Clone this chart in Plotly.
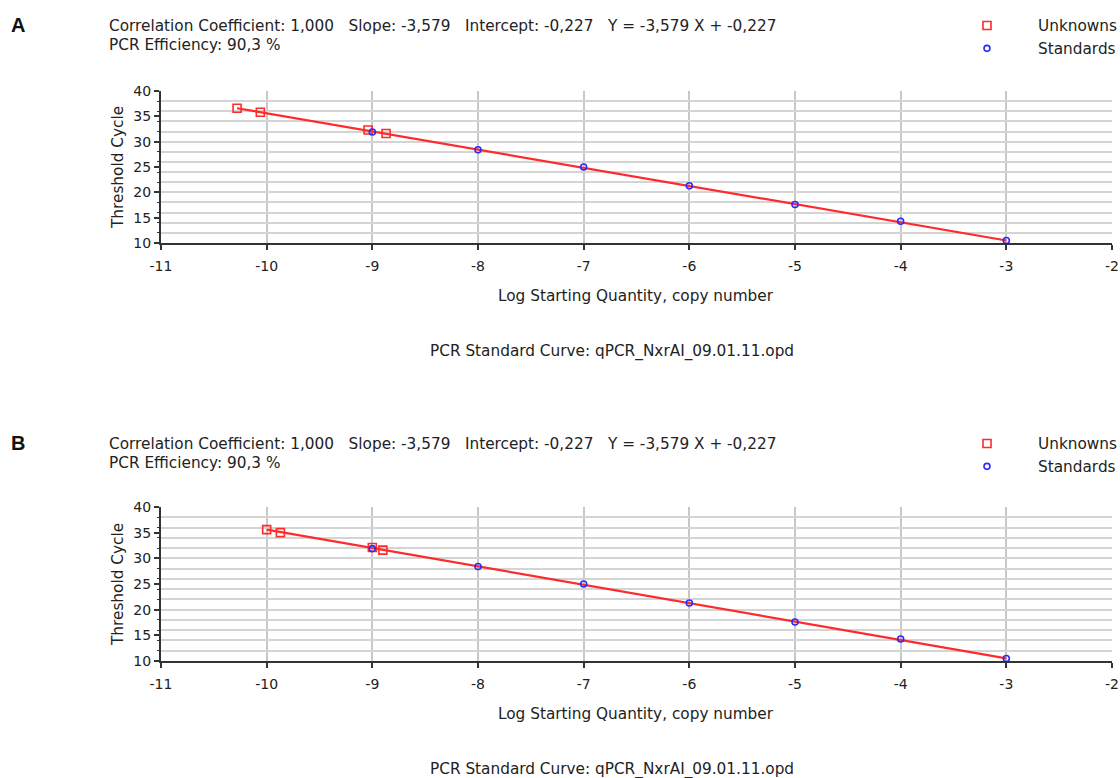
import plotly.graph_objects as go

W, H = 1120, 778

# ---------------- data ----------------
std_x = [-9, -8, -7, -6, -5, -4, -3]
std_y_A = [31.9, 28.4, 25.0, 21.3, 17.6, 14.3, 10.5]
std_y_B = [31.9, 28.4, 25.0, 21.3, 17.6, 14.3, 10.5]

unk_x_A = [-10.28, -10.06, -9.04, -8.87]
unk_y_A = [36.6, 35.8, 32.3, 31.6]
unk_x_B = [-10.0, -9.87, -9.0, -8.90]
unk_y_B = [35.6, 35.0, 32.1, 31.6]

fit_x_A = [-10.28, -3.0]
fit_y_A = [36.6, 10.5]
fit_x_B = [-10.0, -3.0]
fit_y_B = [35.6, 10.5]

header1 = "Correlation Coefficient: 1,000   Slope: -3,579   Intercept: -0,227   Y = -3,579 X + -0,227"
header2 = "PCR Efficiency: 90,3 %"
caption = "PCR Standard Curve: qPCR_NxrAI_09.01.11.opd"
x_title = "Log Starting Quantity, copy number"
y_title = "Threshold Cycle"

x_ticks = [-11, -10, -9, -8, -7, -6, -5, -4, -3, -2]
y_ticks = [10, 15, 20, 25, 30, 35, 40]

FONT = "DejaVu Sans"
TXT = "#222222"
RED = "#ff2a2a"
BLUE = "#2a2aff"
TS = 15.3   # text size
KS = 14     # tick label size

def px(x):
    return x / W

def py(y):
    return 1 - y / H

fig = go.Figure()

panels = [
    dict(tag="A", top=91, bot=243, ux=unk_x_A, uy=unk_y_A, sy=std_y_A, fx=fit_x_A, fy=fit_y_A, dy=0),
    dict(tag="B", top=507, bot=661, ux=unk_x_B, uy=unk_y_B, sy=std_y_B, fx=fit_x_B, fy=fit_y_B, dy=418),
]

annotations = []
layout_axes = {}
for i, p in enumerate(panels):
    n = 2 * i + 1
    xa = "x" if i == 0 else "x2"
    ya = "y" if n == 1 else f"y{n}"
    yg = f"y{n+1}"
    xkey = "xaxis" if i == 0 else "xaxis2"
    ykey = "yaxis" if n == 1 else f"yaxis{n}"
    ygkey = f"yaxis{n+1}"
    legend_name = "legend" if i == 0 else "legend2"

    dom_y = [py(p["bot"]), py(p["top"])]
    layout_axes[xkey] = dict(
        domain=[px(161), px(1112)], range=[-11, -2], anchor=ya,
        tickvals=x_ticks, ticktext=[str(v) for v in x_ticks],
        showgrid=True, gridcolor="#c8c8c8", gridwidth=2,
        showline=True, linecolor="#333333", linewidth=2,
        ticks="outside", ticklen=5, tickwidth=1.5, tickcolor="#333333",
        ticklabelstandoff=4,
        tickfont=dict(family=FONT, size=KS, color=TXT),
        zeroline=False, fixedrange=True, automargin=False,
    )
    layout_axes[ykey] = dict(
        domain=dom_y, range=[10, 40], anchor=xa,
        tickvals=y_ticks, ticktext=[str(v) for v in y_ticks],
        showgrid=False,
        showline=True, linecolor="#333333", linewidth=2,
        ticks="outside", ticklen=5, tickwidth=1.5, tickcolor="#333333",
        tickfont=dict(family=FONT, size=KS, color=TXT),
        zeroline=False, fixedrange=True, automargin=False,
    )
    layout_axes[ygkey] = dict(
        overlaying=ya, range=[10, 40], dtick=2, tick0=10, anchor=xa,
        showgrid=True, gridcolor="#d4d4d4", gridwidth=2,
        showticklabels=False, ticks="outside", ticklen=3, tickwidth=1.2,
        tickcolor="#333333", side="left", zeroline=False, fixedrange=True,
        layer="below traces", automargin=False,
    )

    fig.add_trace(go.Scatter(x=[-11], y=[10], xaxis=xa, yaxis=yg, mode="markers",
                             marker=dict(opacity=0), showlegend=False, hoverinfo="skip"))
    fig.add_trace(go.Scatter(x=p["fx"], y=p["fy"], xaxis=xa, yaxis=ya, mode="lines",
                             line=dict(color=RED, width=2.2), showlegend=False, hoverinfo="skip"))
    fig.add_trace(go.Scatter(x=p["ux"], y=p["uy"], xaxis=xa, yaxis=ya, mode="markers",
                             name="Unknowns", legend=legend_name,
                             marker=dict(symbol="square-open", size=8, color=RED,
                                         line=dict(width=1.6, color=RED))))
    fig.add_trace(go.Scatter(x=std_x, y=p["sy"], xaxis=xa, yaxis=ya, mode="markers",
                             name="Standards", legend=legend_name,
                             marker=dict(symbol="circle-open", size=6, color=BLUE,
                                         line=dict(width=1.6, color=BLUE))))

    dy = p["dy"]
    common = dict(xref="paper", yref="paper", showarrow=False)
    annotations += [
        dict(text=f"<b>{p['tag']}</b>", x=px(9), y=py(25 + dy), xanchor="left", yanchor="middle",
             font=dict(family="Liberation Sans", size=20, color="#111111"), **common),
        dict(text=header1, x=px(107), y=py(26 + dy), xanchor="left", yanchor="middle",
             font=dict(family=FONT, size=TS, color=TXT), **common),
        dict(text=header2, x=px(107), y=py(45 + dy), xanchor="left", yanchor="middle",
             font=dict(family=FONT, size=TS, color=TXT), **common),
        dict(text=y_title, x=px(118), y=py((p["top"] + p["bot"]) / 2 + 1), xanchor="center", yanchor="middle",
             textangle=-90, font=dict(family=FONT, size=TS, color=TXT), **common),
        dict(text=x_title, x=px(636), y=py(296 + dy), xanchor="center", yanchor="middle",
             font=dict(family=FONT, size=TS, color=TXT), **common),
        dict(text=caption, x=px(612), y=py(351 + dy), xanchor="center", yanchor="middle",
             font=dict(family=FONT, size=TS, color=TXT), **common),
    ]

legend_style = dict(
    xanchor="left", yanchor="top", bgcolor="rgba(0,0,0,0)",
    font=dict(family=FONT, size=TS, color=TXT), itemwidth=92,
    tracegroupgap=0, orientation="v",
)

fig.update_layout(
    width=W, height=H, margin=dict(l=0, r=0, t=0, b=0, autoexpand=False),
    paper_bgcolor="white", plot_bgcolor="white",
    showlegend=True,
    annotations=annotations,
    legend=dict(x=px(936), y=py(9), **legend_style),
    legend2=dict(x=px(936), y=py(427), **legend_style),
    **layout_axes,
)

fig.write_html("out.html")
